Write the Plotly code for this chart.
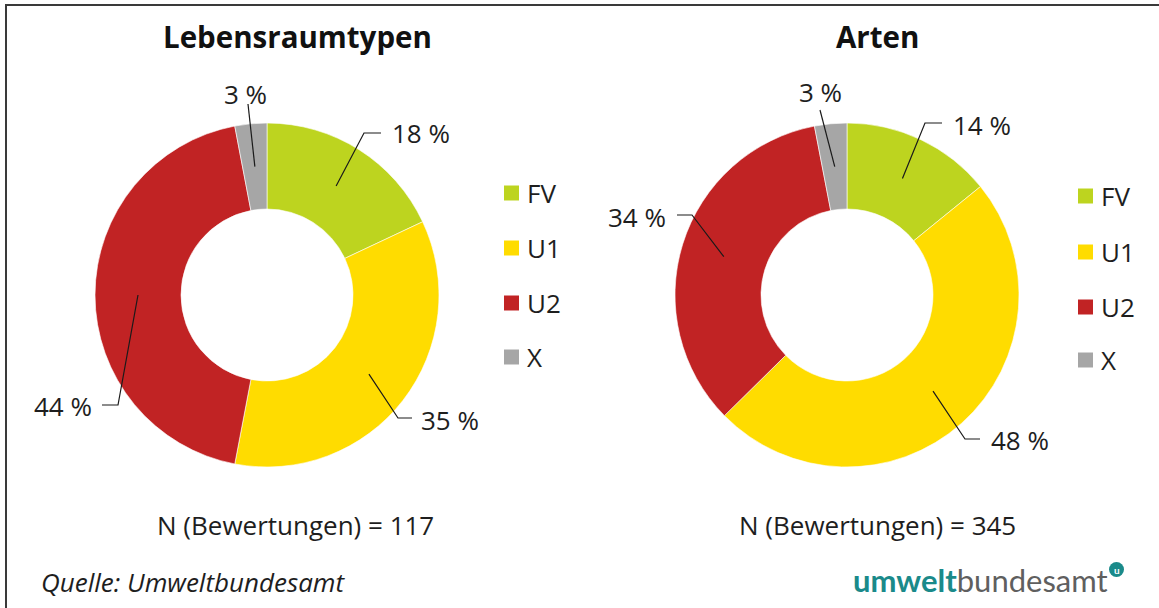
import math
import plotly.graph_objects as go

# ---------------- data ----------------
categories = ["FV", "U1", "U2", "X"]
colors = ["#BDD41F", "#FFDC00", "#C12324", "#A6A6A6"]
titles = ["Lebensraumtypen", "Arten"]
values_lrt = [18, 35, 44, 3]
values_arten = [14, 48, 34, 3]
n_counts = [117, 345]
source_text = "Quelle: Umweltbundesamt"

# ---------------- layout constants (pixels) ----------------
W, H = 1159, 608
FONT = "Open Sans"
TXT = "#1e1e1e"
FS = 26
centers = [(267, 295), (847, 295)]
R_OUT = 172
HOLE = 0.5
title_y = 37
n_y = 525
title_cx = [297, 877]
n_cx = [295, 878]
legend_x = [504, 1078]
legend_y = [[193, 248, 303, 357], [196, 252, 307, 360]]
SQ = 15
# label elbows: (elbow_x, elbow_y, end_x, text_x, text_y, anchor)
label_layout = [
    [(364, 133, 381, 390, 133, "left"),
     (398, 418, 412, 419, 420, "left"),
     (118, 405, 102, 94, 406, "right"),
     (248, 104, 248, 245, 94, "center")],
    [(925, 123, 942, 951, 125, "left"),
     (965, 439, 980, 989, 440, "left"),
     (692, 215, 677, 668, 217, "right"),
     (820, 110, 820, 820, 92, "center")],
]


def fx(px):
    return px / W


def fy(py):
    return 1 - py / H


fig = go.Figure()
shapes = []
annotations = []

for i, vals in enumerate([values_lrt, values_arten]):
    cx, cy = centers[i]
    fig.add_trace(go.Pie(
        labels=categories,
        values=vals,
        hole=HOLE,
        sort=False,
        direction="clockwise",
        rotation=0,
        marker=dict(colors=colors, line=dict(color="white", width=0.6)),
        textinfo="none",
        hoverinfo="label+percent",
        showlegend=False,
        domain=dict(x=[fx(cx - R_OUT), fx(cx + R_OUT)],
                    y=[fy(cy + R_OUT), fy(cy - R_OUT)]),
    ))
    # title
    annotations.append(dict(x=fx(title_cx[i]), y=fy(title_y), xref="paper", yref="paper",
                            text="<b>%s</b>" % titles[i], showarrow=False,
                            xanchor="center", yanchor="middle",
                            font=dict(family=FONT, size=29.5, color="#111111")))
    # N text
    annotations.append(dict(x=fx(n_cx[i]), y=fy(n_y), xref="paper", yref="paper",
                            text="N (Bewertungen) = %d" % n_counts[i], showarrow=False,
                            xanchor="center", yanchor="middle",
                            font=dict(family=FONT, size=FS, color=TXT)))
    # leader lines and labels
    total = sum(vals)
    cum = 0
    r_mid = R_OUT * (1 + HOLE) / 2
    for j, v in enumerate(vals):
        ang = 2 * math.pi * (cum + v / 2) / total
        cum += v
        ax = cx + r_mid * math.sin(ang)
        ay = cy - r_mid * math.cos(ang)
        ex, ey, hx, tx, ty, anc = label_layout[i][j]
        path = "M %f %f L %f %f L %f %f" % (fx(ax), fy(ay), fx(ex), fy(ey), fx(hx), fy(ey))
        shapes.append(dict(type="path", xref="paper", yref="paper", path=path,
                           line=dict(color="#1a1a1a", width=1.2)))
        annotations.append(dict(x=fx(tx), y=fy(ty), xref="paper", yref="paper",
                                text="%d %%" % v, showarrow=False,
                                xanchor=anc, yanchor="middle",
                                font=dict(family=FONT, size=FS, color=TXT)))
    # legend
    for j, cat in enumerate(categories):
        lx = legend_x[i]
        ly = legend_y[i][j]
        shapes.append(dict(type="rect", xref="paper", yref="paper",
                           x0=fx(lx), x1=fx(lx + SQ), y0=fy(ly + SQ / 2), y1=fy(ly - SQ / 2),
                           fillcolor=colors[j], line=dict(width=0)))
        annotations.append(dict(x=fx(lx + SQ + 6), y=fy(ly), xref="paper", yref="paper",
                                text=cat, showarrow=False, xanchor="left", yanchor="middle",
                                font=dict(family=FONT, size=FS, color=TXT)))

# frame
shapes.append(dict(type="path", xref="paper", yref="paper",
                   path="M %f %f L %f %f L %f %f" % (fx(6), fy(612), fx(6), fy(5), fx(1165), fy(5)),
                   line=dict(color="#3a3a3a", width=2)))

# source
annotations.append(dict(x=fx(39), y=fy(582), xref="paper", yref="paper",
                        text="<i>%s</i>" % source_text, showarrow=False,
                        xanchor="left", yanchor="middle",
                        font=dict(family=FONT, size=FS, color=TXT)))
# logo
annotations.append(dict(x=fx(1110), y=fy(580), xref="paper", yref="paper",
                        text="<b><span style='color:#1A8A8A'>umwelt</span></b>"
                             "<span style='color:#5f5f5f'>bundesamt</span>",
                        showarrow=False, xanchor="right", yanchor="middle",
                        font=dict(family="Lato", size=31, color="#5f5f5f")))
shapes.append(dict(type="circle", xref="paper", yref="paper",
                   x0=fx(1109), x1=fx(1124), y0=fy(577), y1=fy(562),
                   fillcolor="#1A8A8A", line=dict(width=0)))
annotations.append(dict(x=fx(1116.5), y=fy(569.5), xref="paper", yref="paper",
                        text="<b>u</b>", showarrow=False, xanchor="center", yanchor="middle",
                        font=dict(family="Lato", size=10, color="white")))

fig.update_layout(
    width=W, height=H,
    margin=dict(l=0, r=0, t=0, b=0),
    paper_bgcolor="white",
    plot_bgcolor="white",
    shapes=shapes,
    annotations=annotations,
    font=dict(family=FONT),
)

fig.write_html("out.html",
               config={"displayModeBar": False},
               post_script="document.body.style.margin='0';document.body.style.overflow='hidden';")
